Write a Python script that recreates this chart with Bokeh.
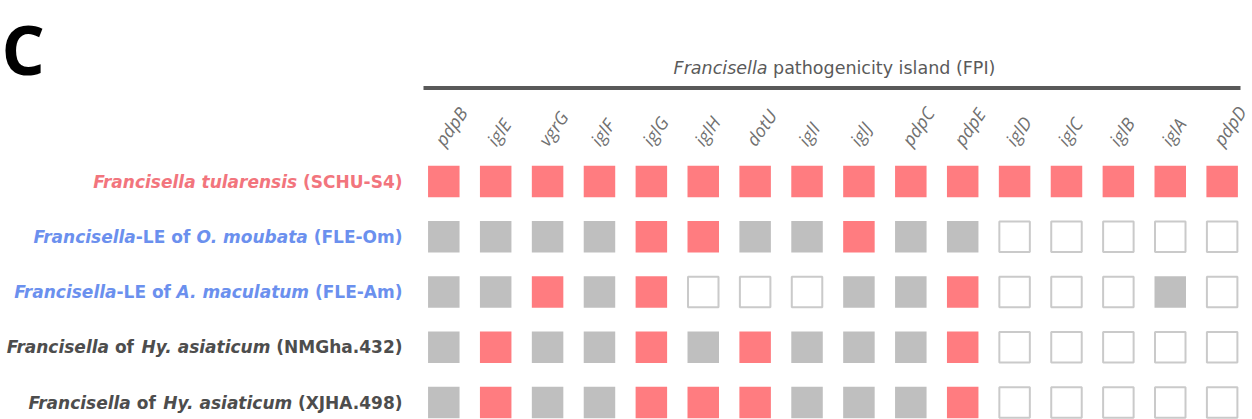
from bokeh.plotting import figure
from bokeh.models import Range1d, ColumnDataSource
from bokeh.core.properties import value
from bokeh.embed import file_html
from bokeh.resources import INLINE

# ---------------- data ----------------
genes = ["pdpB", "iglE", "vgrG", "iglF", "iglG", "iglH", "dotU", "iglI",
         "iglJ", "pdpC", "pdpE", "iglD", "iglC", "iglB", "iglA", "pdpD"]

strains = ["SCHU-S4", "FLE-Om", "FLE-Am", "NMGha.432", "XJHA.498"]

# P = present (red), T = partial (grey), A = absent (empty box)
status_schu_s4 = ["P", "P", "P", "P", "P", "P", "P", "P", "P", "P", "P", "P", "P", "P", "P", "P"]
status_fle_om  = ["T", "T", "T", "T", "P", "P", "T", "T", "P", "T", "T", "A", "A", "A", "A", "A"]
status_fle_am  = ["T", "T", "P", "T", "P", "A", "A", "A", "T", "T", "P", "A", "A", "A", "T", "A"]
status_nmgha   = ["T", "P", "T", "T", "P", "T", "P", "T", "T", "T", "P", "A", "A", "A", "A", "A"]
status_xjha    = ["T", "P", "T", "T", "P", "P", "P", "T", "T", "T", "P", "A", "A", "A", "A", "A"]
status_rows = [status_schu_s4, status_fle_om, status_fle_am, status_nmgha, status_xjha]

# row label pieces: (text, italic)
label_schu = [("Francisella tularensis", True), (" (SCHU-S4)", False)]
label_om   = [("Francisella", True), ("-LE of ", False), ("O. moubata", True), (" (FLE-Om)", False)]
label_am   = [("Francisella", True), ("-LE of ", False), ("A. maculatum", True), (" (FLE-Am)", False)]
label_nm   = [("Francisella", True), (" of ", False), ("Hy. asiaticum", True), (" (NMGha.432)", False)]
label_xj   = [("Francisella", True), (" of ", False), ("Hy. asiaticum", True), (" (XJHA.498)", False)]
row_labels = [label_schu, label_om, label_am, label_nm, label_xj]
row_label_colors = ["#f2757d", "#6b90ee", "#6b90ee", "#4d4d4d", "#4d4d4d"]

header_parts = [("Francisella", True), (" pathogenicity island (FPI)", False)]

# ---------------- layout helpers ----------------
W, H = 1252, 419
SX, SY = 51.89, 55.25          # px per gene column / per strain row
COL0, ROW0 = 443.3, 181.0      # page px of first column / first row centre


def dx(px):
    return (px - COL0) / SX


def dy(py):
    return (py - ROW0) / SY


# approximate advance widths (em) for DejaVu Sans Bold / Book
W_BOLD = {' ': .348, '(': .457, ')': .457, '-': .415, '.': .380,
          'A': .774, 'C': .734, 'E': .683, 'F': .683, 'G': .821, 'H': .838,
          'J': .372, 'L': .637, 'M': .995, 'N': .838, 'O': .850, 'S': .720,
          'U': .812, 'X': .774,
          'a': .675, 'b': .716, 'c': .593, 'e': .678, 'f': .435, 'h': .712,
          'i': .343, 'l': .343, 'm': 1.042, 'n': .712, 'o': .687, 'r': .493,
          's': .595, 't': .478, 'u': .712, 'y': .652}
W_BOOK = {' ': .318, '(': .390, ')': .390, 'F': .575, 'P': .603, 'I': .295,
          'a': .613, 'c': .550, 'd': .635, 'e': .615, 'g': .635, 'h': .634,
          'i': .278, 'l': .278, 'n': .634, 'o': .612, 'p': .635, 'r': .411,
          's': .521, 't': .392, 'y': .592}


def text_width(s, table, size):
    return sum(table.get(ch, 0.696) for ch in s) * size


p = figure(width=W, height=H, output_backend="svg", toolbar_location=None,
           x_range=Range1d(dx(0), dx(W)), y_range=Range1d(dy(H), dy(0)),
           x_axis_location=None, y_axis_location=None, min_border=0)
p.xgrid.visible = False
p.ygrid.visible = False
p.outline_line_color = None
p.background_fill_color = "white"
p.border_fill_color = "white"

# ---------------- squares ----------------
groups = {"P": ([], []), "T": ([], []), "A": ([], [])}
for j, row in enumerate(status_rows):
    for i, s in enumerate(row):
        groups[s][0].append(i)
        groups[s][1].append(j)

p.scatter(x=groups["P"][0], y=groups["P"][1], marker="square", size=31.5,
          fill_color="#ff7c80", line_color=None)
p.scatter(x=groups["T"][0], y=groups["T"][1], marker="square", size=31.5,
          fill_color="#bfbfbf", line_color=None)
p.scatter(x=groups["A"][0], y=groups["A"][1], marker="square", size=30.5,
          fill_color="white", line_color="#cacaca", line_width=2)

# ---------------- gene labels ----------------
p.text(x=[i - 5 / SX for i in range(len(genes))], y=[dy(143)] * len(genes), text=genes,
       angle=0.96, text_align="left", text_baseline="middle",
       text_font=value("Open Sans"), text_font_style="italic",
       text_font_size="18px", text_color="#707070")

# ---------------- row labels ----------------
FS = 17
SP = W_BOLD[' '] * FS
ital = dict(x=[], y=[], text=[], xo=[], c=[])
norm = dict(x=[], y=[], text=[], xo=[], c=[])
for j, parts in enumerate(row_labels):
    off = 0.0
    for txt, is_it in reversed(parts):
        core = txt.strip()
        trailing = len(txt) - len(txt.rstrip())
        leading = len(txt) - len(txt.lstrip())
        off += trailing * SP
        d = ital if is_it else norm
        d["x"].append(dx(402))
        d["y"].append(j)
        d["text"].append(core)
        d["xo"].append(-off)
        d["c"].append(row_label_colors[j])
        off += text_width(core, W_BOLD, FS) + leading * SP

for d, style in ((ital, "bold italic"), (norm, "bold")):
    p.text(x="x", y="y", text="text", x_offset="xo", text_color="c",
           source=ColumnDataSource(d), text_align="right", text_baseline="middle",
           text_font=value("DejaVu Sans"), text_font_style=style,
           text_font_size=f"{FS}px")

# ---------------- header ----------------
HFS = 17.5
HSP = W_BOOK[' '] * HFS
total = sum(text_width(t, W_BOOK, HFS) for t, _ in header_parts)
off = -total / 2
for txt, is_it in header_parts:
    core = txt.strip()
    off += (len(txt) - len(txt.lstrip())) * HSP
    p.text(x=[dx(834)], y=[dy(67)], text=[core], x_offset=off,
           text_align="left", text_baseline="middle",
           text_font=value("DejaVu Sans"),
           text_font_style="italic" if is_it else "normal",
           text_font_size=f"{HFS}px", text_color="#5a5a5a")
    off += text_width(core, W_BOOK, HFS) + (len(txt) - len(txt.rstrip())) * HSP

p.segment(x0=[dx(423)], y0=[dy(87.5)], x1=[dx(1240)], y1=[dy(87.5)],
          line_width=4, line_color="#595959")

# ---------------- panel letter ----------------
p.text(x=[dx(1)], y=[dy(48)], text=["C"], text_align="left",
       text_baseline="alphabetic", text_font=value("Open Sans"),
       text_font_style="bold", text_font_size="68px", text_color="black")

open("out.html", "w").write(file_html(p, INLINE))
